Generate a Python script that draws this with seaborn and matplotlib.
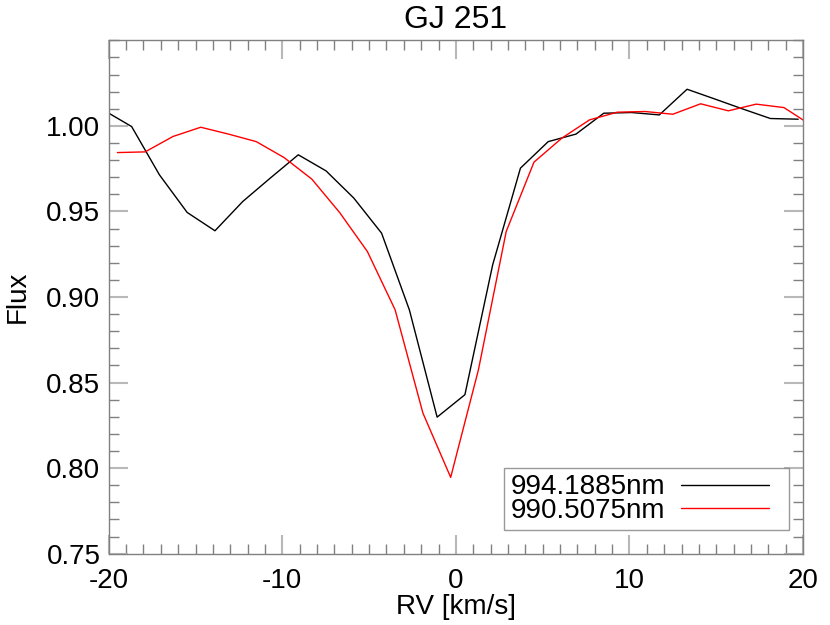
import pandas as pd
import seaborn as sns
import matplotlib.pyplot as plt
from matplotlib.lines import Line2D
from matplotlib.legend_handler import HandlerLine2D
from matplotlib.ticker import FixedLocator, MultipleLocator, FormatStrFormatter

# RV grid and flux for each line
rv_9941 = [-20.28, -18.68, -17.08, -15.48, -13.88, -12.28, -10.68, -9.08, -7.48, -5.88,
           -4.28, -2.68, -1.08, 0.52, 2.12, 3.72, 5.32, 6.92, 8.52, 10.12,
           11.72, 13.32, 14.92, 16.52, 18.12, 19.72]
flux_9941 = [1.0091, 0.9996, 0.9714, 0.9494, 0.9387, 0.9558, 0.9696, 0.9831, 0.9737, 0.9578,
             0.9373, 0.8925, 0.8298, 0.8429, 0.9188, 0.9753, 0.9908, 0.9952, 1.0074, 1.0078,
             1.0064, 1.0214, 1.0157, 1.0099, 1.0043, 1.0039]

rv_9905 = [-19.5, -17.9, -16.3, -14.7, -13.1, -11.5, -9.9, -8.3, -6.7, -5.1,
           -3.5, -1.9, -0.3, 1.3, 2.9, 4.5, 6.1, 7.7, 9.3, 10.9,
           12.5, 14.1, 15.7, 17.3, 18.9, 20.5]
flux_9905 = [0.9844, 0.9848, 0.9938, 0.9992, 0.9952, 0.9908, 0.9815, 0.9689, 0.9494, 0.9266,
             0.8925, 0.8322, 0.7946, 0.8575, 0.9383, 0.9788, 0.9928, 1.0035, 1.0080, 1.0084,
             1.0068, 1.0129, 1.0088, 1.0127, 1.0107, 1.0002]

labels = ['994.1885nm', '990.5075nm']
yticks = [0.75, 0.80, 0.85, 0.90, 0.95, 1.00]

df1 = pd.DataFrame({'rv': rv_9941, 'flux': flux_9941})
df2 = pd.DataFrame({'rv': rv_9905, 'flux': flux_9905})

sns.set_style('white')
plt.rcParams['font.family'] = ['Liberation Sans', 'DejaVu Sans']
plt.rcParams['axes.unicode_minus'] = False
plt.rcParams['text.color'] = 'black'
plt.rcParams['axes.labelcolor'] = 'black'
plt.rcParams['xtick.labelcolor'] = 'black'
plt.rcParams['ytick.labelcolor'] = 'black'

fontsize = 20
axis_gray = '#808080'


# legend line that leaves a little room on the right, like the original
class ShortLine(HandlerLine2D):
    def create_artists(self, legend, orig_handle, xdescent, ydescent,
                       width, height, fontsize, trans):
        return super().create_artists(legend, orig_handle, xdescent, ydescent,
                                      width - 0.5 * fontsize, height, fontsize, trans)


fig, ax = plt.subplots(figsize=(8.3, 6.25), dpi=100)
fig.subplots_adjust(left=0.131, right=0.9675, top=0.9355, bottom=0.1141)

sns.lineplot(data=df1, x='rv', y='flux', color='black', lw=1.0, sort=False,
             estimator=None, label=labels[0], ax=ax)
sns.lineplot(data=df2, x='rv', y='flux', color='red', lw=1.0, sort=False,
             estimator=None, label=labels[1], ax=ax)

ax.set_xlim(-20, 20)
ax.set_ylim(0.75, 1.05)
ax.xaxis.set_major_locator(MultipleLocator(10))
ax.xaxis.set_minor_locator(MultipleLocator(1))
ax.yaxis.set_major_locator(FixedLocator(yticks))
ax.yaxis.set_minor_locator(MultipleLocator(0.01))
ax.yaxis.set_major_formatter(FormatStrFormatter('%.2f'))

for spine in ax.spines.values():
    spine.set_visible(True)
    spine.set_color(axis_gray)
    spine.set_linewidth(1.0)

ax.tick_params(which='both', direction='in', top=True, right=True,
               bottom=True, left=True, labelsize=fontsize)
ax.tick_params(axis='x', pad=10)
ax.tick_params(axis='y', pad=6)
ax.tick_params(which='major', length=14, width=1.5, color='#b8b8b8')
ax.tick_params(which='minor', length=7, width=1.0, color=axis_gray)

ax.set_xlabel('RV [km/s]', fontsize=fontsize, labelpad=0)
ax.set_ylabel('Flux', fontsize=fontsize, labelpad=11)
ax.set_title('GJ 251', fontsize=23, pad=9)

leg = ax.legend(loc='lower right', bbox_to_anchor=(0.98, 0.0456), borderaxespad=0,
                fontsize=fontsize, frameon=True, fancybox=False, markerfirst=False,
                handlelength=3.67, labelspacing=-0.08, borderpad=0.22,
                handletextpad=0.58, handler_map={Line2D: ShortLine()})
leg.get_frame().set_edgecolor(axis_gray)
leg.get_frame().set_linewidth(1.0)

fig.savefig('out.png', dpi=100)
